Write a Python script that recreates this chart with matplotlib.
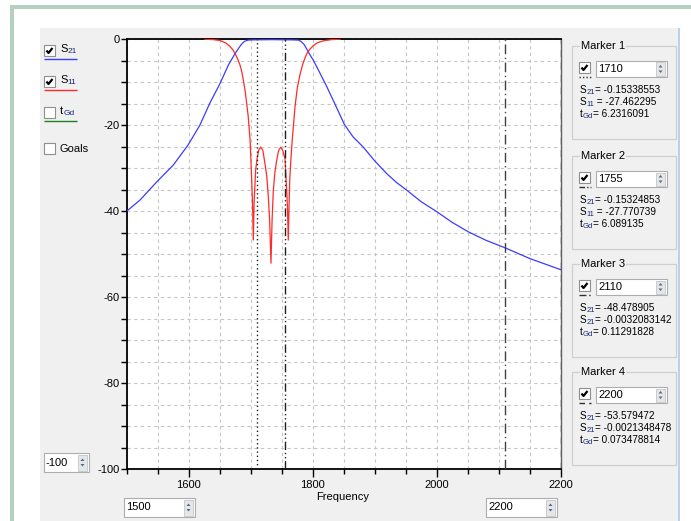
import matplotlib
matplotlib.use("Agg")
import matplotlib.pyplot as plt
from matplotlib.patches import Rectangle, Polygon
from matplotlib.lines import Line2D
from matplotlib.ticker import FixedLocator, MultipleLocator

plt.rcParams['font.family'] = ['Liberation Sans', 'DejaVu Sans']
plt.rcParams['axes.unicode_minus'] = False

# ---------------- data ----------------
s21_freq = [1500, 1521.5, 1549, 1575, 1599, 1618, 1634, 1650.5, 1664, 1675, 1681,
            1685.5, 1690, 1696, 1705, 1734, 1765, 1772, 1776.8, 1781, 1786, 1790,
            1795, 1801, 1810, 1822.6, 1835, 1851, 1865, 1881.6, 1900, 1919, 1935,
            1951.6, 1975, 2000, 2025, 2051, 2080, 2110, 2150, 2200]
s21_db = [-40.0, -37.4, -33.1, -29.3, -24.6, -20.0, -14.9, -10.3, -6.0, -3.3, -2.0,
          -1.1, -0.5, -0.2, -0.15, -0.1, -0.15, -0.18, -0.2, -0.5, -1.2, -2.2,
          -3.5, -4.9, -7.4, -11.0, -14.8, -19.8, -22.7, -25.1, -28.3, -31.2, -33.3,
          -35.1, -37.8, -40.1, -42.6, -44.8, -46.8, -48.5, -51.0, -53.6]

s11_freq = [1626, 1640, 1650.5, 1660, 1666.6, 1671, 1674.7, 1679, 1682.7, 1686,
            1690.8, 1693.5, 1696, 1699, 1701.6, 1703, 1704.2, 1705.5, 1708, 1710.6,
            1713, 1716, 1719.5, 1723, 1726, 1728.4, 1730.5, 1732.7, 1734.5, 1736.5,
            1739, 1742, 1745, 1748.4, 1751.5, 1755.3, 1758, 1759.3, 1760.6, 1762,
            1763, 1765, 1767, 1771.5, 1775, 1779.5, 1784, 1788, 1791, 1795.6, 1801,
            1808, 1818, 1830, 1844]
s11_db = [0.0, -0.1, -0.3, -0.9, -1.7, -2.4, -3.3, -4.6, -6.0, -7.8,
          -11.8, -14.9, -18.0, -23.4, -32.7, -38.5, -46.7, -38.0, -30.4, -27.5,
          -25.8, -25.1, -25.8, -28.9, -32.0, -36.6, -42.0, -52.1, -42.0, -35.1,
          -31.0, -28.1, -25.9, -25.1, -25.8, -27.8, -35.1, -39.0, -46.7, -38.0,
          -32.7, -27.5, -23.4, -15.7, -11.5, -8.2, -5.8, -4.2, -3.2, -2.3, -1.5,
          -0.8, -0.35, -0.1, 0.0]

marker_freqs = [1710, 1755, 2110, 2200]
marker_titles = ["Marker 1", "Marker 2", "Marker 3", "Marker 4"]
marker_values = ["1710", "1755", "2110", "2200"]
# each readout line: (symbol, subscript, rest)
marker_lines = [
    [("S", "21", "= -0.15338553"), ("S", "11", " = -27.462295"), ("t", "Gd", "= 6.2316091")],
    [("S", "21", "= -0.15324853"), ("S", "11", " = -27.770739"), ("t", "Gd", "= 6.089135")],
    [("S", "21", "= -48.478905"), ("S", "21", "= -0.0032083142"), ("t", "Gd", "= 0.11291828")],
    [("S", "21", "= -53.579472"), ("S", "21", "= -0.0021348478"), ("t", "Gd", "= 0.073478814")],
]
x_ticklabels = ["1600", "1800", "2000", "2200"]
y_ticklabels = ["0", "-20", "-40", "-60", "-80", "-100"]
x_min, x_max = 1500, 2200
y_min, y_max = -100, 0

# ---------------- figure ----------------
W, H = 691, 521
fig = plt.figure(figsize=(W / 100, H / 100), dpi=100, facecolor='white')
renderer = fig.canvas.get_renderer()


def fx(x):
    return x / W


def fy(y):
    return 1 - y / H


def rect(x, y, w, h, fc, ec='none', lw=1.0, z=1):
    fig.add_artist(Rectangle((fx(x), fy(y + h)), w / W, h / H, transform=fig.transFigure,
                             facecolor=fc, edgecolor=ec, lw=lw, zorder=z))


def line(xs, ys, color, lw=1.0, ls='-', z=3):
    fig.add_artist(Line2D([fx(v) for v in xs], [fy(v) for v in ys], transform=fig.transFigure,
                          color=color, lw=lw, ls=ls, zorder=z, solid_capstyle='butt'))


def text(x, y, s, size=8, ha='left', color='black', z=5, **kw):
    return fig.text(fx(x), fy(y), s, fontsize=size, ha=ha, va='center', color=color, zorder=z, **kw)


def sub_text(x, y, sym, sub, rest, size=7.2, subsize=5.5, subcolor='#1a2a7a'):
    t = text(x, y, sym, size=size)
    x += t.get_window_extent(renderer).width
    t = text(x, y + 2.2, sub, size=subsize, color=subcolor)
    x += t.get_window_extent(renderer).width
    if rest:
        text(x, y, rest, size=size)


def checkbox(x, y, checked, size=11):
    rect(x, y, size, size, 'white', '#8e8f8f', lw=0.8, z=4)
    if checked:
        line([x + 2.5, x + 4.5, x + 8.5], [y + 5.5, y + 8, y + 3], 'black', lw=1.6, z=5)


def spinbox(x, y, w, h, value):
    rect(x, y, w, h, 'white', '#abadb3', lw=0.8, z=4)
    text(x + 2, y + h / 2, value, size=8, z=6)
    bx = x + w - 11
    rect(bx, y + 1.5, 9, h - 3, '#e6e6e6', '#c5c5c5', lw=0.6, z=5)
    cx = bx + 4.5
    my = y + h / 2
    fig.add_artist(Polygon([(fx(cx - 2), fy(my - 1.5)), (fx(cx + 2), fy(my - 1.5)), (fx(cx), fy(my - 4))],
                           closed=True, transform=fig.transFigure, fc='#4d6a96', ec='none', zorder=6))
    fig.add_artist(Polygon([(fx(cx - 2), fy(my + 1.5)), (fx(cx + 2), fy(my + 1.5)), (fx(cx), fy(my + 4))],
                           closed=True, transform=fig.transFigure, fc='#4d6a96', ec='none', zorder=6))


# window background / frame
rect(10, 5, 4, H - 5, '#b5d0c3', z=0)
rect(10, 5, W - 10, 4, '#b5d0c3', z=0)
rect(40, 28, 638, H - 28, '#f0f0f0', z=0)
rect(678, 28, 1.5, H - 28, '#b9d1ea', z=0)

# ---------------- axes ----------------
ax_left, ax_right, ax_top, ax_bot = 126.7, 560.7, 39.2, 469.2
ax = fig.add_axes([fx(ax_left), fy(ax_bot), (ax_right - ax_left) / W, (ax_bot - ax_top) / H])
ax.set_facecolor('white')
ax.set_xlim(x_min, x_max)
ax.set_ylim(y_min, y_max)

ax.xaxis.set_major_locator(FixedLocator([1600, 1800, 2000, 2200]))
ax.set_xticklabels(x_ticklabels)
ax.xaxis.set_minor_locator(MultipleLocator(50))
ax.yaxis.set_major_locator(FixedLocator([0, -20, -40, -60, -80, -100]))
ax.set_yticklabels(y_ticklabels)
ax.yaxis.set_minor_locator(MultipleLocator(5))
ax.tick_params(axis='x', which='major', direction='out', length=6, width=1, labelsize=8, pad=2)
ax.tick_params(axis='x', which='minor', direction='out', length=3.5, width=1)
ax.tick_params(axis='y', which='both', direction='out', length=4, width=1, labelsize=8, pad=1)

ax.grid(True, which='minor', color='#c6c6c6', lw=0.8, ls=(0, (3, 3)))
ax.grid(True, which='major', color='#c6c6c6', lw=0.8, ls=(0, (3, 3)))
ax.set_axisbelow(True)
for side in ['left', 'bottom', 'top']:
    ax.spines[side].set_color('black')
    ax.spines[side].set_linewidth(1.3)
ax.spines['right'].set_color('#606060')
ax.spines['right'].set_linewidth(1.0)

ax.plot(s21_freq, s21_db, color='#3c3cff', lw=0.9, zorder=4)
ax.plot(s11_freq, s11_db, color='#ff2a2a', lw=0.9, zorder=4)

marker_styles = [(0, (1, 2)), (0, (6, 2, 1, 2, 1, 2)), (0, (7, 2.5, 1, 2.5)), (0, (5, 4))]
marker_colors = ['#202020', '#202020', '#404040', '#404040']
for f, ls, c in zip(marker_freqs, marker_styles, marker_colors):
    ax.axvline(f, color=c, lw=1.0, ls=ls, zorder=5)

fig.text(fx(343), fy(497), "Frequency", fontsize=8, ha='center', va='center')

# ---------------- left panel ----------------
checkbox(44, 45, True)
sub_text(60, 49, "S", "21", "", size=8, subsize=6)
line([44, 77], [59, 59], '#3c3cff', lw=1.0)
checkbox(44, 76, True)
sub_text(60, 80, "S", "11", "", size=8, subsize=6)
line([44, 77], [90, 90], '#ff2a2a', lw=1.0)
checkbox(44, 107, False)
sub_text(60, 111, "t", "Gd", "", size=8, subsize=6)
line([44, 77], [121, 121], '#1f7f1f', lw=1.0)
checkbox(44, 143, False)
text(60, 149, "Goals")

spinbox(44, 453, 45, 19, "-100")
spinbox(124, 498, 71, 19, "1500")
spinbox(486, 498, 71, 19, "2200")

# ---------------- marker panel ----------------
title_ys = [46, 156, 264, 372]
glyph_styles = [(0, (1, 1.5)), (0, (4, 1.5, 1, 1.5, 1, 1.5)), (0, (5, 2, 1, 2)), (0, (4, 3))]
for ty, title, val, lines_, gls in zip(title_ys, marker_titles, marker_values, marker_lines, glyph_styles):
    rect(572, ty, 104, 93, 'none', '#cfcfcf', lw=0.9, z=3)
    fig.text(fx(581), fy(ty), title, fontsize=8, ha='left', va='center', zorder=6,
             bbox=dict(facecolor='#f0f0f0', edgecolor='none', pad=1.0))
    checkbox(579, ty + 16, True)
    line([579, 591], [ty + 31, ty + 31], '#303030', lw=1.0, ls=gls, z=5)
    spinbox(596, ty + 15, 71, 16, val)
    for k, (sym, sub, rest) in enumerate(lines_):
        sub_text(580, ty + 44 + 12 * k, sym, sub, rest)

fig.savefig("out.png", dpi=100, facecolor=fig.get_facecolor())
